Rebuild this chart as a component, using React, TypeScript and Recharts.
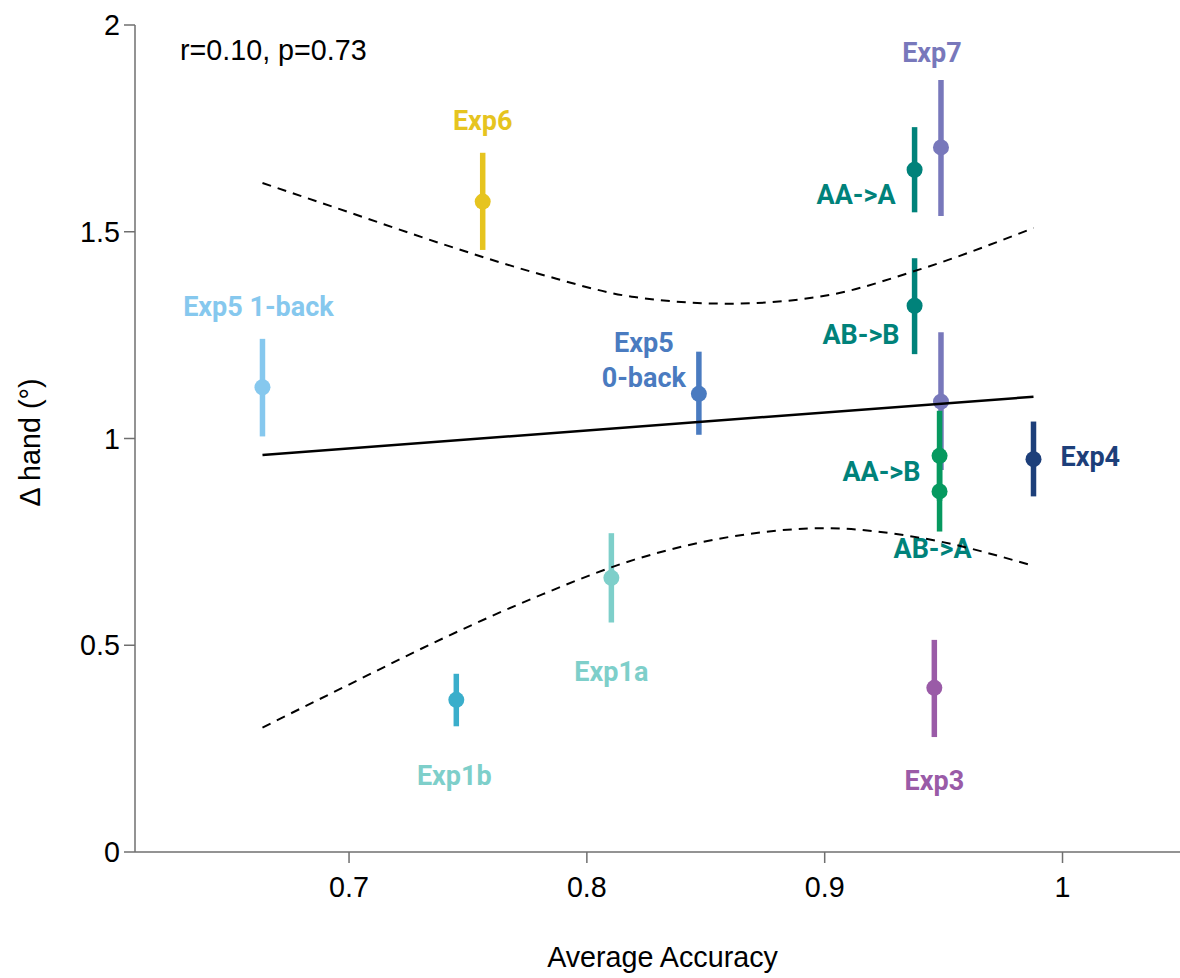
import React from "react";
import { ComposedChart, Scatter, Line, XAxis, YAxis, ErrorBar, Label } from "recharts";

const experiments = ["Exp5 1-back", "Exp6", "Exp1b", "Exp1a", "Exp5 0-back", "AA->A", "Exp7", "AB->B", "Exp7 b", "AA->B", "AB->A", "Exp4", "Exp3"];
const accuracy = [0.6636, 0.7562, 0.7451, 0.8103, 0.8471, 0.9378, 0.9489, 0.9378, 0.9489, 0.9483, 0.9483, 0.9878, 0.9461];
const deltaHand = [1.124, 1.573, 0.368, 0.663, 1.108, 1.65, 1.704, 1.321, 1.089, 0.958, 0.872, 0.95, 0.397];
const ciLow = [1.005, 1.456, 0.304, 0.555, 1.009, 1.547, 1.538, 1.204, 0.924, 0.849, 0.775, 0.86, 0.278];
const ciHigh = [1.241, 1.691, 0.431, 0.771, 1.21, 1.753, 1.867, 1.436, 1.257, 1.067, 0.968, 1.041, 0.513];

// regression fit and its confidence band
const fitX = [0.6636, 0.9878];
const fitY = [0.96, 1.101];
const bandX = [0.6636, 0.7, 0.74, 0.78, 0.82, 0.86, 0.9, 0.94, 0.9878];
const bandUpper = [1.618, 1.547, 1.469, 1.398, 1.342, 1.326, 1.345, 1.409, 1.509];
const bandLower = [0.301, 0.405, 0.518, 0.62, 0.707, 0.762, 0.783, 0.76, 0.692];

const xTicks = [0.7, 0.8, 0.9, 1];
const yTicks = [0, 0.5, 1, 1.5, 2];

const colors = ["#86c8ee", "#e6c41f", "#3aaecb", "#7ecfca", "#4a7bc0", "#00827a", "#7878bb", "#00827a", "#7878bb", "#06995f", "#06995f", "#1d3f7a", "#9a5ba7"];
const labelColors = ["#86c8ee", "#e6c41f", "#7ecfca", "#7ecfca", "#4a7bc0", "#00827a", "#7878bb", "#00827a", "#7878bb", "#00827a", "#00827a", "#1d3f7a", "#9a5ba7"];
const labelLines = [["Exp5 1-back"], ["Exp6"], ["Exp1b"], ["Exp1a"], ["Exp5", "0-back"], ["AA->A"], ["Exp7"], ["AB->B"], [], ["AA->B"], ["AB->A"], ["Exp4"], ["Exp3"]];
const labelPos = [
  { dx: -4, dy: -71, anchor: "middle" },
  { dx: 0, dy: -72, anchor: "middle" },
  { dx: -2, dy: 85, anchor: "middle" },
  { dx: 0, dy: 103, anchor: "middle" },
  { dx: -55, dy: -42, anchor: "middle" },
  { dx: -19, dy: 34, anchor: "end" },
  { dx: -9, dy: -85, anchor: "middle" },
  { dx: -15, dy: 38, anchor: "end" },
  { dx: 0, dy: 0, anchor: "middle" },
  { dx: -19, dy: 25, anchor: "end" },
  { dx: -7, dy: 67, anchor: "middle" },
  { dx: 27, dy: 7, anchor: "start" },
  { dx: 0, dy: 102, anchor: "middle" },
];

const sans = "'Liberation Sans', Arial, sans-serif";
const textSize = 28.7;
const axisColor = "#6f6f6f";

const points = experiments.map((name, i) => ({
  name,
  x: accuracy[i],
  y: deltaHand[i],
  err: [deltaHand[i] - ciLow[i], ciHigh[i] - deltaHand[i]],
}));
const fitData = fitX.map((x, i) => ({ x, y: fitY[i] }));
const upperData = bandX.map((x, i) => ({ x, y: bandUpper[i] }));
const lowerData = bandX.map((x, i) => ({ x, y: bandLower[i] }));

const makeShape = (i: number) => (props: any) => {
  const { cx, cy } = props;
  const pos = labelPos[i];
  const lines = labelLines[i];
  return (
    <g>
      <circle cx={cx} cy={cy} r={8} fill={colors[i]} />
      {lines.length > 0 && (
        <text
          x={cx + pos.dx}
          y={cy + pos.dy}
          textAnchor={pos.anchor as any}
          fill={labelColors[i]}
          fontFamily="Roboto, 'Liberation Sans', sans-serif"
          fontWeight={700}
          fontSize={27}
        >
          {lines.map((t, k) => (
            <tspan key={k} x={cx + pos.dx} dy={k === 0 ? 0 : 35}>
              {t}
            </tspan>
          ))}
        </text>
      )}
    </g>
  );
};

export default function App() {
  return (
    <div style={{ position: "absolute", left: 0, top: 0, width: 1180, height: 978, background: "#fff" }}>
      <ComposedChart width={1180} height={978} margin={{ top: 25, right: 0, bottom: 66, left: 65 }}>
        <XAxis
          type="number"
          dataKey="x"
          domain={[0.61, 1.0494]}
          ticks={xTicks}
          allowDataOverflow
          height={60}
          tickSize={11}
          tickMargin={14}
          stroke={axisColor}
          strokeWidth={1.5}
          tick={{ fill: "#000", fontSize: textSize, fontFamily: sans }}
        >
          <Label value="Average Accuracy" position="bottom" offset={35} fill="#000" fontSize={textSize} fontFamily={sans} dx={5} />
        </XAxis>
        <YAxis
          type="number"
          dataKey="y"
          domain={[0, 2]}
          ticks={yTicks}
          allowDataOverflow
          width={70}
          tickSize={11}
          tickMargin={4}
          stroke={axisColor}
          strokeWidth={1.5}
          tick={{ fill: "#000", fontSize: textSize, fontFamily: sans }}
        >
          <Label value="Δ hand (°)" position="center" angle={-90} dx={-70} dy={4} fill="#000" fontSize={textSize} fontFamily={sans} />
        </YAxis>
        {points.map((p, i) => (
          <Scatter key={p.name} data={[p]} dataKey="y" shape={makeShape(i)} isAnimationActive={false}>
            <ErrorBar dataKey="err" direction="y" width={0} strokeWidth={5.5} stroke={colors[i]} isAnimationActive={false} />
          </Scatter>
        ))}
        <Line data={fitData} dataKey="y" type="linear" stroke="#000" strokeWidth={2.5} dot={false} activeDot={false} isAnimationActive={false} zIndex={700} />
        <Line data={upperData} dataKey="y" type="monotone" stroke="#000" strokeWidth={2} strokeDasharray="9 7" dot={false} activeDot={false} isAnimationActive={false} zIndex={700} />
        <Line data={lowerData} dataKey="y" type="monotone" stroke="#000" strokeWidth={2} strokeDasharray="9 7" dot={false} activeDot={false} isAnimationActive={false} zIndex={700} />
      </ComposedChart>
      <svg width={1180} height={978} style={{ position: "absolute", left: 0, top: 0, pointerEvents: "none" }}>
        <text x={180} y={60} fontSize={textSize} fontFamily={sans} fill="#000">
          r=0.10, p=0.73
        </text>
      </svg>
    </div>
  );
}
